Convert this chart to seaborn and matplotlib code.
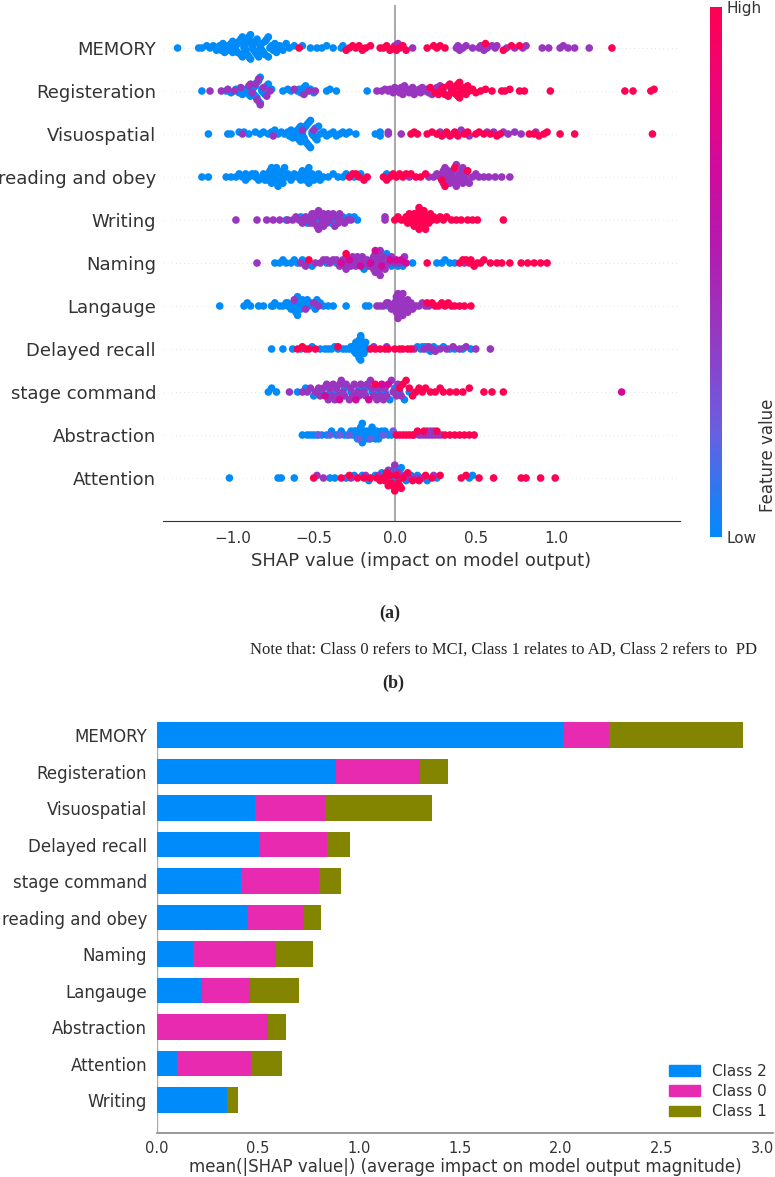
import matplotlib
matplotlib.use('Agg')
import numpy as np
import pandas as pd
import seaborn as sns
import matplotlib.pyplot as plt
from matplotlib.colors import LinearSegmentedColormap, Normalize
from matplotlib.cm import ScalarMappable
from matplotlib.patches import Patch

# ---- (a) beeswarm: SHAP values, grouped by feature-value colour ----
features = ["MEMORY", "Registeration", "Visuospatial", "reading and obey", "Writing", "Naming",
            "Langauge", "Delayed recall", "stage command", "Abstraction", "Attention"]

memory_low = [-1.34, -1.21, -1.19, -1.16, -1.14, -1.12, -1.10, -1.09, -1.08, -1.07, -1.06, -1.05, -1.04,
              -1.03, -1.02, -1.01, -1.00, -1.00, -0.99, -0.98, -0.98, -0.97, -0.97, -0.96, -0.95, -0.95,
              -0.94, -0.94, -0.93, -0.93, -0.92, -0.92, -0.92, -0.91, -0.91, -0.90, -0.90, -0.90, -0.89,
              -0.89, -0.88, -0.88, -0.87, -0.87, -0.86, -0.86, -0.85, -0.85, -0.84, -0.83, -0.83, -0.82,
              -0.82, -0.81, -0.80, -0.80, -0.79, -0.78, -0.78, -0.77, -0.76, -0.75, -0.74, -0.73, -0.72,
              -0.71, -0.69, -0.67, -0.65, -0.62, -0.57, -0.52, -0.48, -0.45, -0.42, -0.38, -0.33, -0.32]
memory_mid = [0.00, 0.02, 0.11, 0.38, 0.39, 0.40, 0.42, 0.44, 0.48, 0.52, 0.53, 0.55, 0.57, 0.60, 0.62,
              0.63, 0.69, 0.74, 0.79, 0.81, 0.91, 0.95, 1.02, 1.04, 1.07, 1.11, 1.20]
memory_high = [-0.59, -0.30, -0.28, -0.26, -0.24, -0.22, -0.20, -0.18, -0.15, -0.09, -0.07, -0.05, -0.03,
               -0.01, 0.01, 0.03, 0.05, 0.07, 0.20, 0.24, 0.26, 0.28, 0.31, 0.56, 0.67, 0.72, 0.77, 1.34]

regist_low = [-1.19, -1.04, -1.01, -0.98, -0.96, -0.94, -0.92, -0.92, -0.91, -0.90, -0.90, -0.89, -0.88,
              -0.88, -0.87, -0.87, -0.86, -0.86, -0.85, -0.85, -0.84, -0.84, -0.83, -0.83, -0.82, -0.82,
              -0.81, -0.80, -0.79, -0.78, -0.76, -0.69, -0.66, -0.64, -0.60, -0.59, -0.58, -0.56, -0.55,
              -0.52, -0.50, -0.42, -0.40, -0.36, -0.17]
regist_mid = [-1.14, -1.07, -1.03, -0.99, -0.95, -0.90, -0.89, -0.88, -0.86, -0.85, -0.84, -0.83, -0.81,
              -0.79, -0.77, -0.62, -0.56, -0.53, -0.49, -0.11, -0.08, -0.06, -0.04, -0.03, -0.01, 0.00,
              0.01, 0.02, 0.03, 0.04, 0.05, 0.06, 0.07, 0.08, 0.09, 0.11, 0.12, 0.13, 0.15, 0.16, 0.17,
              0.19, 0.20, 0.21, 0.23, 0.24, 0.25, 0.26, 0.28, 0.29, 0.30, 0.33, 0.36]
regist_high = [0.22, 0.25, 0.27, 0.29, 0.30, 0.31, 0.33, 0.34, 0.35, 0.36, 0.37, 0.38, 0.38, 0.39, 0.39,
               0.40, 0.40, 0.41, 0.41, 0.42, 0.43, 0.44, 0.45, 0.46, 0.48, 0.50, 0.53, 0.56, 0.60, 0.66,
               0.68, 0.71, 0.77, 0.80, 0.96, 1.42, 1.47, 1.58, 1.60]

visuo_low = [-1.15, -1.03, -1.01, -0.96, -0.93, -0.90, -0.86, -0.83, -0.81, -0.78, -0.76, -0.74, -0.72,
             -0.70, -0.68, -0.66, -0.65, -0.64, -0.63, -0.62, -0.62, -0.61, -0.60, -0.60, -0.59, -0.59,
             -0.58, -0.58, -0.57, -0.57, -0.57, -0.56, -0.56, -0.56, -0.55, -0.55, -0.54, -0.54, -0.53,
             -0.53, -0.52, -0.52, -0.51, -0.51, -0.50, -0.49, -0.49, -0.48, -0.47, -0.46, -0.44, -0.42,
             -0.40, -0.38, -0.36, -0.34, -0.32, -0.30, -0.28, -0.24, -0.12, -0.09, -0.09]
visuo_mid = [-0.94, -0.75, -0.57, -0.50, -0.04, -0.04, 0.04, 0.28, 0.31, 0.36, 0.41, 0.46, 0.57, 0.61,
             0.67, 0.70, 0.74, 0.78, 0.87]
visuo_high = [0.10, 0.12, 0.14, 0.20, 0.23, 0.26, 0.29, 0.32, 0.34, 0.37, 0.39, 0.43, 0.45, 0.50, 0.52,
              0.55, 0.59, 0.63, 0.65, 0.83, 0.86, 0.89, 0.92, 0.94, 1.02, 1.11, 1.59]

reading_low = [-1.19, -1.15, -1.04, -1.01, -0.98, -0.96, -0.94, -0.92, -0.92, -0.90, -0.88, -0.86, -0.86,
               -0.84, -0.82, -0.81, -0.80, -0.79, -0.78, -0.78, -0.77, -0.76, -0.76, -0.75, -0.75, -0.74,
               -0.74, -0.73, -0.73, -0.72, -0.71, -0.71, -0.70, -0.69, -0.69, -0.68, -0.67, -0.66, -0.64,
               -0.63, -0.62, -0.60, -0.58, -0.58, -0.57, -0.56, -0.55, -0.55, -0.54, -0.53, -0.53, -0.52,
               -0.51, -0.50, -0.48, -0.47, -0.46, -0.44, -0.41, -0.38, -0.35, -0.32, -0.30, -0.25, -0.21,
               -0.06, -0.05]
reading_mid = [0.09, 0.21, 0.24, 0.26, 0.28, 0.29, 0.30, 0.30, 0.31, 0.32, 0.32, 0.33, 0.33, 0.34, 0.35,
               0.35, 0.36, 0.36, 0.37, 0.38, 0.38, 0.39, 0.40, 0.40, 0.41, 0.42, 0.42, 0.43, 0.44, 0.44,
               0.46, 0.48, 0.50, 0.52, 0.55, 0.58, 0.62, 0.66, 0.71]
reading_high = [-0.28, -0.26, -0.24, -0.22, -0.19, -0.17, -0.07, -0.05, -0.03, -0.01, 0.01, 0.03, 0.05,
                0.07, 0.10, 0.13, 0.16, 0.19, 0.29, 0.31, 0.37, 0.45]

writing_low = [-0.67, -0.58, -0.54, -0.50, -0.46, -0.43, -0.39, -0.36, -0.32, -0.28, -0.25, -0.23]
writing_mid = [-0.98, -0.85, -0.79, -0.75, -0.71, -0.66, -0.63, -0.61, -0.59, -0.57, -0.56, -0.55, -0.53,
               -0.52, -0.52, -0.51, -0.50, -0.50, -0.49, -0.48, -0.47, -0.47, -0.46, -0.45, -0.44, -0.44,
               -0.43, -0.42, -0.41, -0.40, -0.40, -0.38, -0.37, -0.36, -0.35, -0.34, -0.33, -0.31, -0.29,
               -0.27, -0.06, -0.06]
writing_high = [0.00, 0.02, 0.04, 0.06, 0.07, 0.08, 0.09, 0.10, 0.10, 0.11, 0.12, 0.12, 0.13, 0.13, 0.14,
                0.14, 0.14, 0.15, 0.15, 0.15, 0.16, 0.16, 0.17, 0.17, 0.18, 0.18, 0.19, 0.20, 0.20, 0.21,
                0.22, 0.23, 0.24, 0.26, 0.28, 0.30, 0.32, 0.35, 0.38, 0.41, 0.45, 0.48, 0.51, 0.67]

naming_low = [-0.74, -0.71, -0.69, -0.67, -0.64, -0.62, -0.60, -0.57, -0.54, -0.51, -0.42, -0.36, -0.30,
              -0.25, -0.19, -0.14, -0.10, -0.05, -0.02, 0.02, 0.05, 0.11, 0.26, 0.29, 0.31, 0.34, 0.37]
naming_mid = [-0.85, -0.58, -0.55, -0.49, -0.46, -0.44, -0.42, -0.40, -0.38, -0.36, -0.34, -0.32, -0.31,
              -0.30, -0.29, -0.27, -0.26, -0.25, -0.24, -0.23, -0.22, -0.21, -0.20, -0.18, -0.17, -0.16,
              -0.14, -0.13, -0.13, -0.12, -0.12, -0.11, -0.11, -0.11, -0.10, -0.10, -0.10, -0.09, -0.09,
              -0.08, -0.08, -0.07, -0.06, -0.04, -0.02, 0.00, 0.03, 0.06, 0.43]
naming_magenta = [-0.33, -0.28, -0.21, -0.15, -0.12, -0.08, -0.03, 0.01, 0.04, 0.07]
naming_high = [-0.53, -0.30, 0.20, 0.40, 0.42, 0.44, 0.46, 0.47, 0.49, 0.51, 0.53, 0.55, 0.59, 0.63, 0.66,
               0.71, 0.78, 0.82, 0.86, 0.90, 0.94]

lang_low = [-1.08, -0.93, -0.91, -0.89, -0.84, -0.81, -0.76, -0.75, -0.74, -0.71, -0.69, -0.67, -0.66,
            -0.66, -0.64, -0.63, -0.62, -0.62, -0.61, -0.60, -0.60, -0.59, -0.58, -0.58, -0.57, -0.56,
            -0.56, -0.54, -0.53, -0.52, -0.50, -0.49, -0.48, -0.46, -0.44, -0.41, -0.38, -0.30, -0.18,
            -0.16, -0.04, 0.01]
lang_mid = [-0.62, -0.55, -0.50, -0.47, -0.11, -0.09, -0.07, -0.05, -0.04, -0.02, -0.01, 0.00, 0.00, 0.01,
            0.01, 0.02, 0.02, 0.02, 0.03, 0.03, 0.03, 0.04, 0.04, 0.04, 0.05, 0.05, 0.06, 0.06, 0.07, 0.08,
            0.08, 0.09, 0.10, 0.11, 0.13, 0.15, 0.17, 0.19, 0.21]
lang_high = [0.20, 0.23, 0.25, 0.27, 0.29, 0.31, 0.33, 0.35, 0.37, 0.40, 0.43, 0.47]

delayed_low = [-0.76, -0.69, -0.63, -0.58, -0.51, -0.46, -0.43, -0.41, -0.39, -0.37, -0.35, -0.32, -0.30,
               -0.28, -0.27, -0.26, -0.25, -0.25, -0.24, -0.24, -0.24, -0.23, -0.23, -0.23, -0.23, -0.22,
               -0.22, -0.22, -0.22, -0.22, -0.21, -0.21, -0.21, -0.20, -0.20, -0.20, -0.19, -0.19, -0.18,
               -0.17, 0.14, 0.16, 0.17, 0.19, 0.20, 0.22, 0.24, 0.26, 0.30, 0.34, 0.37, 0.42, 0.47]
delayed_mid = [-0.13, -0.05, 0.12, 0.18, 0.21, 0.23, 0.25, 0.28, 0.32, 0.36, 0.40, 0.44, 0.50, 0.59]
delayed_high = [-0.60, -0.57, -0.55, -0.53, -0.49, -0.35, -0.15, -0.12, -0.09, -0.06, -0.04, 0.00, 0.03,
                0.05, 0.08, 0.10]

stage_low = [-0.78, -0.76, -0.73, -0.60, -0.55, -0.50, -0.45, -0.40, -0.36, -0.31, -0.27, -0.22, -0.18,
             -0.14, -0.10, -0.06, -0.03, 0.00, 0.03, 0.06, 0.09]
stage_mid = [-0.65, -0.57, -0.54, -0.52, -0.49, -0.47, -0.46, -0.44, -0.42, -0.41, -0.40, -0.39, -0.38,
             -0.37, -0.36, -0.35, -0.34, -0.33, -0.32, -0.31, -0.30, -0.28, -0.27, -0.26, -0.25, -0.23,
             -0.22, -0.21, -0.19, -0.18, -0.17, -0.15, -0.14, -0.13, -0.11, -0.10, -0.09, -0.07, -0.06,
             -0.05, -0.02, -0.01, 0.01, 0.02, 0.04]
stage_magenta = [-0.43, -0.34, -0.24, -0.16, -0.08, -0.04, 1.40]
stage_high = [-0.12, 0.03, 0.05, 0.07, 0.09, 0.11, 0.13, 0.15, 0.17, 0.19, 0.22, 0.25, 0.28, 0.30, 0.34,
              0.38, 0.42, 0.46, 0.55, 0.60, 0.67]

abstr_low = [-0.57, -0.54, -0.52, -0.50, -0.48, -0.45, -0.42, -0.39, -0.36, -0.33, -0.31, -0.29, -0.27,
             -0.26, -0.25, -0.24, -0.24, -0.23, -0.22, -0.22, -0.21, -0.20, -0.20, -0.19, -0.19, -0.18,
             -0.17, -0.17, -0.16, -0.15, -0.15, -0.14, -0.13, -0.13, -0.12, -0.11, -0.11, -0.10, -0.09,
             -0.08, -0.06, -0.04, -0.02]
abstr_lowmid = [-0.47, -0.40, -0.34, -0.28, -0.22, -0.15, -0.07, -0.01]
abstr_mid = [0.12, 0.15, 0.17, 0.19, 0.20, 0.21, 0.22, 0.23, 0.24, 0.25, 0.27, 0.29]
abstr_high = [0.01, 0.03, 0.05, 0.07, 0.09, 0.11, 0.14, 0.18, 0.26, 0.31, 0.34, 0.37, 0.40, 0.43, 0.46,
              0.49]

attn_low = [-1.02, -0.72, -0.70, -0.62, -0.40, -0.37, -0.30, -0.25, -0.20, -0.16, -0.12, -0.08, -0.06,
            -0.04, -0.03, -0.02, -0.01, 0.00, 0.00, 0.01, 0.02, 0.03, 0.04, 0.07, 0.10, 0.14, 0.20, 0.26,
            0.46, 0.48]
attn_mid = [-0.48, -0.44, -0.27, -0.18, -0.10, -0.04, -0.02, 0.00, 0.02, 0.06, 0.09, 0.13, 0.17, 0.24]
attn_high = [-0.50, -0.33, -0.28, -0.23, -0.19, -0.15, -0.11, -0.09, -0.07, -0.06, -0.05, -0.04, -0.03,
             -0.02, -0.01, 0.00, 0.01, 0.02, 0.03, 0.04, 0.05, 0.08, 0.11, 0.15, 0.19, 0.23, 0.28, 0.41,
             0.44, 0.52, 0.61, 0.78, 0.81, 0.90, 0.99]

# feature value (colour) used for each group
LOW, LOWMID, MID, MAGENTA, HIGH = 0.0, 0.2, 0.4, 0.7, 1.0

groups = {
    "MEMORY": [(LOW, memory_low), (MID, memory_mid), (HIGH, memory_high)],
    "Registeration": [(LOW, regist_low), (MID, regist_mid), (HIGH, regist_high)],
    "Visuospatial": [(LOW, visuo_low), (MID, visuo_mid), (HIGH, visuo_high)],
    "reading and obey": [(LOW, reading_low), (MID, reading_mid), (HIGH, reading_high)],
    "Writing": [(LOW, writing_low), (MID, writing_mid), (HIGH, writing_high)],
    "Naming": [(LOW, naming_low), (MID, naming_mid), (MAGENTA, naming_magenta), (HIGH, naming_high)],
    "Langauge": [(LOW, lang_low), (MID, lang_mid), (HIGH, lang_high)],
    "Delayed recall": [(LOW, delayed_low), (MID, delayed_mid), (HIGH, delayed_high)],
    "stage command": [(LOW, stage_low), (MID, stage_mid), (MAGENTA, stage_magenta), (HIGH, stage_high)],
    "Abstraction": [(LOW, abstr_low), (LOWMID, abstr_lowmid), (MID, abstr_mid), (HIGH, abstr_high)],
    "Attention": [(LOW, attn_low), (MID, attn_mid), (HIGH, attn_high)],
}

# ---- (b) stacked mean |SHAP| bars ----
bar_features = ["MEMORY", "Registeration", "Visuospatial", "Delayed recall", "stage command",
                "reading and obey", "Naming", "Langauge", "Abstraction", "Attention", "Writing"]
class2 = [2.008, 0.885, 0.485, 0.507, 0.414, 0.447, 0.180, 0.221, 0.000, 0.100, 0.348]
class0 = [0.232, 0.415, 0.345, 0.333, 0.386, 0.281, 0.408, 0.239, 0.548, 0.365, 0.000]
class1 = [0.660, 0.140, 0.530, 0.115, 0.110, 0.082, 0.186, 0.245, 0.089, 0.154, 0.052]

C_BLUE, C_PINK, C_OLIVE = "#008bfb", "#e82ab0", "#838500"

shap_cmap = LinearSegmentedColormap.from_list(
    "shap_red_blue",
    [(0.0, "#008bfb"), (0.2, "#6a5fe0"), (0.4, "#9a35c0"), (0.55, "#b41ab0"),
     (0.7, "#d20a9c"), (0.85, "#ee0479"), (1.0, "#ff0052")])


def swarm_offsets(xs, row_height=0.4, nbins=50):
    # same stacking idea as shap's beeswarm (coarser bins since fewer dots)
    xs = np.asarray(xs, float)
    quant = np.round(nbins * (xs - xs.min()) / (xs.max() - xs.min() + 1e-8))
    inds = np.lexsort((xs, quant))
    ys = np.zeros(len(xs))
    layer = 0
    last_bin = -1
    for i in inds:
        if quant[i] != last_bin:
            layer = 0
        ys[i] = np.ceil(layer / 2) * ((layer % 2) * 2 - 1)
        layer += 1
        last_bin = quant[i]
    ys *= 0.9 * (row_height / np.max(ys + 1))
    return ys


rows = []
n = len(features)
for k, feat in enumerate(features):
    pos = n - 1 - k
    xs, fv = [], []
    for val, lst in groups[feat]:
        xs += lst
        fv += [val] * len(lst)
    offs = swarm_offsets(xs)
    for x, v, o in zip(xs, fv, offs):
        rows.append({"feature": feat, "shap": x, "fval": v, "ypos": pos + o})
df = pd.DataFrame(rows)

sns.set_style("white")
plt.rcParams["font.family"] = ["DejaVu Sans"]

W, H = 775, 1177
fig = plt.figure(figsize=(W / 100, H / 100), dpi=100)


def px_axes(left, top, right, bottom):
    return fig.add_axes([left / W, 1 - bottom / H, (right - left) / W, (bottom - top) / H])


# ---------- (a) ----------
ax1 = px_axes(163, 5, 680, 521)
for pos in range(n):
    ax1.axhline(pos, color="#cccccc", lw=0.5, dashes=(1, 5), zorder=-1)
ax1.axvline(0, color="#999999", lw=1.2, zorder=-1)
sns.scatterplot(data=df, x="shap", y="ypos", hue="fval", palette=shap_cmap, hue_norm=(0, 1),
                s=30, linewidth=0, legend=False, ax=ax1, zorder=3)
ax1.set_xlim(-1.43, 1.76)
ax1.set_ylim(-1, n)
ax1.set_yticks(range(n))
ax1.set_yticklabels(features[::-1], fontsize=13, color="#333333")
ax1.tick_params(axis="y", length=0, pad=5)
ax1.set_xticks([-1.0, -0.5, 0.0, 0.5, 1.0])
ax1.set_xticklabels(["\u22121.0", "\u22120.5", "0.0", "0.5", "1.0"])
ax1.tick_params(axis="x", labelsize=11, labelcolor="#333333", colors="#333333", length=4, width=0.8)
ax1.set_xlabel("SHAP value (impact on model output)", fontsize=13, color="#333333")
ax1.set_ylabel("")
for side in ["top", "right", "left"]:
    ax1.spines[side].set_visible(False)
ax1.spines["bottom"].set_color("#333333")

cax = px_axes(710, 7, 722, 537)
sm = ScalarMappable(norm=Normalize(0, 1), cmap=shap_cmap)
cb = fig.colorbar(sm, cax=cax, ticks=[0, 1])
cb.set_ticklabels(["Low", "High"])
cb.ax.tick_params(labelsize=11, length=0, labelcolor="#333333")
cb.outline.set_visible(False)
fig.text(768 / W, 1 - 455 / H, "Feature value", rotation=90, fontsize=12, color="#333333",
         ha="center", va="center")

# captions
fig.text(390 / W, 1 - 613 / H, "(a)", fontsize=13, fontweight="bold", family="Liberation Serif",
         ha="center", va="center")
fig.text(503 / W, 1 - 650 / H,
         "Note that: Class 0 refers to MCI, Class 1 relates to AD, Class 2 refers to  PD",
         fontsize=12, family="Liberation Serif", ha="center", va="center")
fig.text(393 / W, 1 - 683 / H, "(b)", fontsize=13, fontweight="bold", family="Liberation Serif",
         ha="center", va="center")

# ---------- (b) ----------
ax2 = px_axes(157, 722, 773, 1133)
bdf = pd.DataFrame({"feature": bar_features, "c2": class2, "c0": class0, "c1": class1})
bdf["end2"] = bdf["c2"]
bdf["end0"] = bdf["c2"] + bdf["c0"]
bdf["end1"] = bdf["end0"] + bdf["c1"]
sns.barplot(data=bdf, x="end1", y="feature", color=C_OLIVE, orient="h", width=0.7,
            saturation=1, linewidth=0, ax=ax2)
sns.barplot(data=bdf, x="end0", y="feature", color=C_PINK, orient="h", width=0.7,
            saturation=1, linewidth=0, ax=ax2)
sns.barplot(data=bdf, x="end2", y="feature", color=C_BLUE, orient="h", width=0.7,
            saturation=1, linewidth=0, ax=ax2)
ax2.axvline(0, color="#aaaaaa", lw=1.0, zorder=0)
ax2.set_xlim(0, 3.05)
ax2.set_ylim(len(bar_features) - 1 + 0.9, -0.36)
ax2.set_ylabel("")
ax2.set_xlabel("mean(|SHAP value|) (average impact on model output magnitude)", fontsize=12,
               color="#333333", labelpad=1)
ax2.set_xticks([0.0, 0.5, 1.0, 1.5, 2.0, 2.5, 3.0])
ax2.set_xticklabels(["0.0", "0.5", "1.0", "1.5", "2.0", "2.5", "3.0"])
ax2.tick_params(axis="x", labelsize=10.5, labelcolor="#333333", colors="#888888", length=4, pad=2)
ax2.tick_params(axis="y", length=0, pad=7, labelsize=12, labelcolor="#333333")
for side in ["top", "right", "left"]:
    ax2.spines[side].set_visible(False)
ax2.spines["bottom"].set_color("#888888")
ax2.spines["bottom"].set_linewidth(1.2)

handles = [Patch(color=C_BLUE), Patch(color=C_PINK), Patch(color=C_OLIVE)]
ax2.legend(handles, ["Class 2", "Class 0", "Class 1"], loc="lower right", frameon=False,
           fontsize=11, labelcolor="#333333", labelspacing=0.35, bbox_to_anchor=(1.012, 0.0))

fig.savefig("out.png", dpi=100)
